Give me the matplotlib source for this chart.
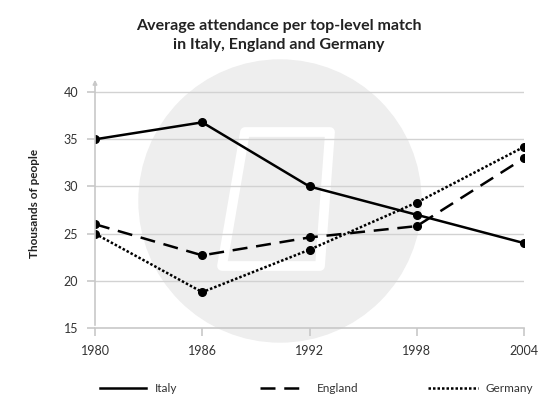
"""
Average attendance per top-level match line chart.
"""

import matplotlib.pyplot as plt
from matplotlib.patches import Circle, Polygon

years = [1980, 1986, 1992, 1998, 2004]
italy = [35.0, 36.8, 30.0, 27.0, 24.0]
england = [26.0, 22.7, 24.6, 25.8, 33.0]
germany = [25.0, 18.8, 23.3, 28.3, 34.2]
y_ticks = [15, 20, 25, 30, 35, 40]
series_names = ["Italy", "England", "Germany"]

plt.rcParams["font.family"] = ["Lato", "DejaVu Sans"]

styles = ["-", (0, (6, 3.5)), (0, (1, 0.8))]

fig = plt.figure(figsize=(5.57, 4.01), dpi=100)
fig.patch.set_facecolor("white")

# watermark behind everything, pixel coordinates
bg = fig.add_axes([0, 0, 1, 1])
bg.set_xlim(0, 557)
bg.set_ylim(401, 0)
bg.axis("off")
bg.add_patch(Circle((280, 201), 141, color="#eeeeee", zorder=0))
bg.add_patch(Polygon([(245, 132), (330, 132), (320, 266), (222, 266)],
                     closed=True, fill=False, edgecolor="white", lw=7,
                     joinstyle="round", zorder=1))

ax = fig.add_axes([95 / 557, 1 - 328 / 401, 429 / 557, 250 / 401])
ax.patch.set_alpha(0)

for vals, ls in zip([italy, england, germany], styles):
    ax.plot(years, vals, color="black", lw=1.8, ls=ls, marker="o", ms=5.5)

ax.set_xlim(1980, 2004)
ax.set_ylim(15, 41.5)
ax.set_xticks(years)
ax.set_yticks(y_ticks)
ax.set_xticklabels([str(y) for y in years])
for h in y_ticks[1:]:
    ax.axhline(h, color="#d2d2d2", lw=1, zorder=0)

for s in ["top", "right", "left"]:
    ax.spines[s].set_visible(False)
ax.spines["bottom"].set_color("#c8c8c8")
ax.spines["bottom"].set_linewidth(1.2)
ax.annotate("", xy=(1980, 41.6), xytext=(1980, 15), xycoords="data",
            arrowprops=dict(arrowstyle="-|>", color="#c8c8c8", lw=1.2,
                            mutation_scale=6), annotation_clip=False)
ax.tick_params(axis="both", colors="#c8c8c8", labelcolor="#333333",
               labelsize=9, length=6, width=1.2, pad=6)

ax.set_ylabel("Thousands of people", fontsize=8.5, fontweight="bold",
              color="#222222", labelpad=17)

fig.text(0.5, 0.952, "Average attendance per top-level match\nin Italy, England and Germany",
         ha="center", va="top", fontsize=11.5, fontweight="bold",
         color="#222222", linespacing=1.45)

# legend drawn by hand along the bottom
legend_x = [(100, 146, 155), (260, 305, 317), (428, 478, 485)]
for (x0, x1, tx), ls, name in zip(legend_x, styles, series_names):
    bg.plot([x0, x1], [388, 388], color="black", lw=1.8, ls=ls)
    bg.text(tx, 388, name, fontsize=8.5, color="#333333", va="center", ha="left")

plt.savefig("out.png", dpi=100)
plt.close()
